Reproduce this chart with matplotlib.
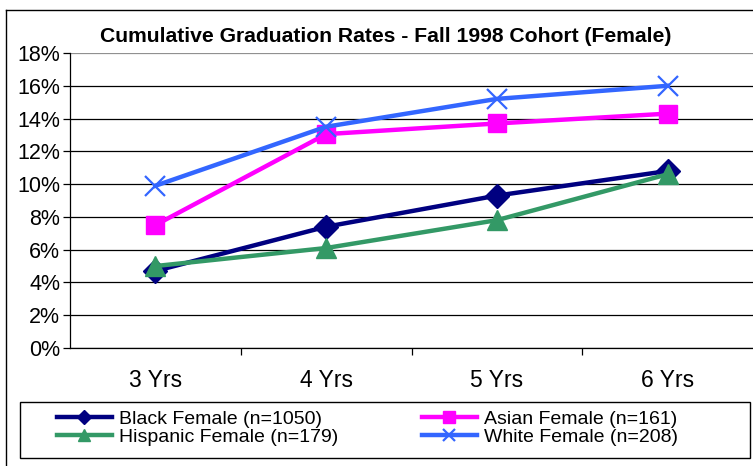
import matplotlib.pyplot as plt
from matplotlib.patches import Rectangle
from matplotlib.ticker import FuncFormatter
import numpy as np

plt.rcParams['font.family'] = ['Liberation Sans', 'DejaVu Sans']

categories = ['3 Yrs', '4 Yrs', '5 Yrs', '6 Yrs']
black = [4.7, 7.4, 9.3, 10.8]
asian = [7.5, 13.05, 13.7, 14.3]
hispanic = [5.0, 6.1, 7.8, 10.6]
white = [9.9, 13.5, 15.2, 16.0]

fig = plt.figure(figsize=(7.53, 4.66), dpi=100)
ax = fig.add_axes([70/753, 118/466, 1 - 70/753, 295/466])

x = np.arange(len(categories))
lb, = ax.plot(x, black, color='#000080', lw=3.2, marker='D', ms=12, label='Black Female (n=1050)')
la, = ax.plot(x, asian, color='#ff00ff', lw=3.2, marker='s', ms=13.5, label='Asian Female (n=161)')
lh, = ax.plot(x, hispanic, color='#339966', lw=3.2, marker='^', ms=15, label='Hispanic Female (n=179)')
lw_, = ax.plot(x, white, color='#3366ff', lw=3.2, marker='x', ms=15, mew=1.6, label='White Female (n=208)')

ax.set_xlim(-0.5, 3.5)
ax.set_ylim(0, 18)
ax.set_yticks(np.arange(0, 19, 2))
ax.yaxis.set_major_formatter(FuncFormatter(lambda v, p: '%d%%' % v))
ax.grid(axis='y', color='black', lw=0.9)
ax.yaxis.get_gridlines()[-1].set_color('#909090')
ax.set_axisbelow(True)
ax.set_xticks(x)
ax.set_xticklabels(categories)
ax.set_xticks([0.5, 1.5, 2.5], minor=True)
ax.tick_params(axis='x', which='major', length=0, pad=15, labelsize=16.5)
ax.tick_params(axis='x', which='minor', length=5, width=0.9)
ax.tick_params(axis='y', length=5, width=0.9, labelsize=15.5, pad=2)
for s in ['top', 'right']:
    ax.spines[s].set_visible(False)
ax.spines['left'].set_linewidth(0.9)
ax.spines['bottom'].set_linewidth(0.9)

fig.text(386/753, 1 - 37/466, 'Cumulative Graduation Rates - Fall 1998 Cohort (Female)',
         ha='center', va='center', fontsize=15.2, fontweight='bold')

# outer chart frame
fig.add_artist(plt.Line2D([6/753, 6/753], [0, 1 - 10/466], transform=fig.transFigure, color='black', lw=1))
fig.add_artist(plt.Line2D([6/753, 1], [1 - 10/466, 1 - 10/466], transform=fig.transFigure, color='black', lw=1))

# legend box
fig.add_artist(Rectangle((20/753, 8/466), 730/753, 56/466, transform=fig.transFigure,
                         fill=False, edgecolor='black', lw=1))
leg = fig.legend(handles=[lb, lh, la, lw_], ncol=2, loc='center left',
                 bbox_to_anchor=(47/753, 38/466), frameon=False, fontsize=14,
                 handlelength=2.83, handletextpad=0.36, labelspacing=0,
                 borderpad=0, columnspacing=4.3, markerscale=0.6)

fig.savefig('out.png', dpi=100)
